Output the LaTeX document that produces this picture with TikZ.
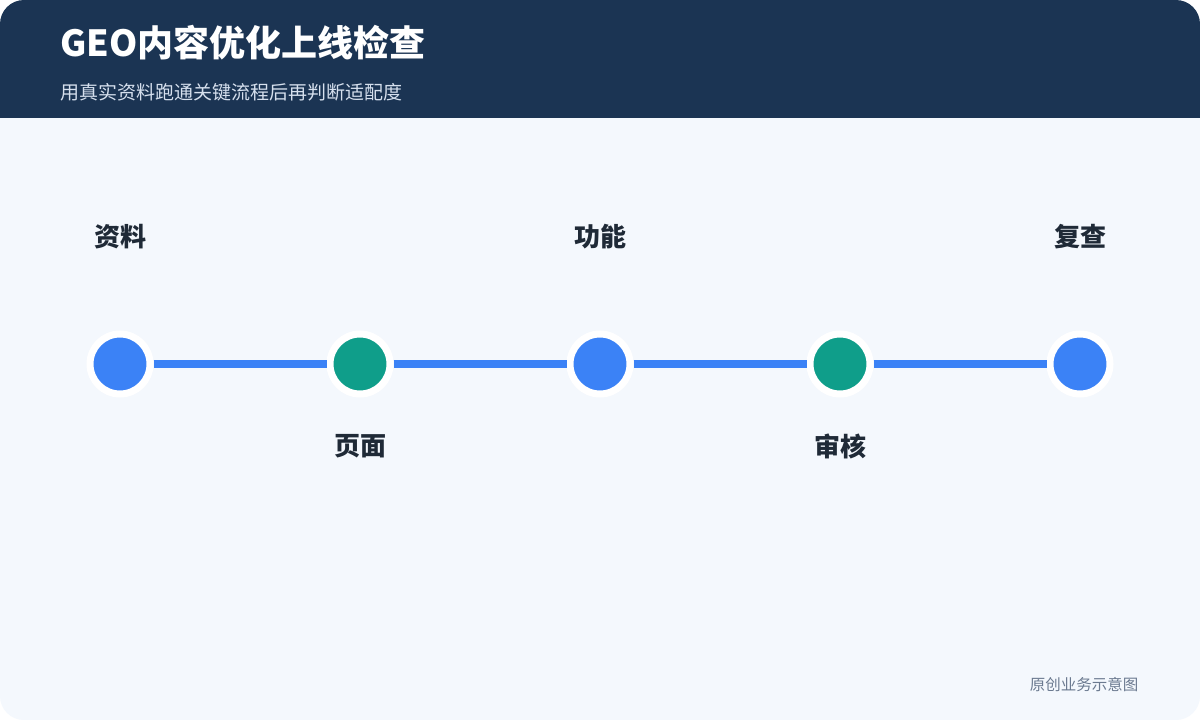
\documentclass[tikz,border=0pt]{standalone}
\usepackage{fontspec}
\setmainfont{Noto Sans CJK SC}
\begin{document}
\begin{tikzpicture}[x=1pt,y=-1pt,
  dot/.style={circle,draw=white,line width=7pt,minimum size=60pt,inner sep=0pt},
  lab/.style={font=\fontsize{26}{30}\selectfont\bfseries,text=labc},
  link/.style={line width=8pt,draw=blueA}]
\definecolor{navy}{HTML}{1B3453}
\definecolor{bg}{HTML}{F4F8FD}
\definecolor{blueA}{HTML}{3B82F6}
\definecolor{greenA}{HTML}{0F9E8A}
\definecolor{sub}{HTML}{D6E0EE}
\definecolor{foot}{HTML}{6B7A90}
\definecolor{labc}{HTML}{1F2A37}
\useasboundingbox (0,0) rectangle (1200,720);
\fill[white] (0,0) rectangle (1200,720);
\fill[bg,rounded corners=24pt] (0,0) rectangle (1200,720);
\fill[navy,rounded corners=24pt] (0,0) rectangle (1200,140);
\fill[bg] (0,118) rectangle (1200,145);
\node[anchor=west,text=white,font=\fontsize{36}{41}\selectfont\bfseries] (title) at (57,43) {GEO内容优化上线检查};
\node[anchor=west,text=sub,font=\fontsize{19}{23}\selectfont] (subt) at (57,92) {用真实资料跑通关键流程后再判断适配度};
\foreach \n/\x/\c in {a/120/blueA,b/360/greenA,c/600/blueA,d/840/greenA,e/1080/blueA}
  \node[dot,fill=\c] (\n) at (\x,364) {};
\draw[link] (a) -- (b);
\draw[link] (b) -- (c);
\draw[link] (c) -- (d);
\draw[link] (d) -- (e);
\node[lab] (la) at (120,237) {资料};
\node[lab] (lc) at (600,237) {功能};
\node[lab] (le) at (1080,237) {复查};
\node[lab] (lb) at (360,446) {页面};
\node[lab] (ld) at (840,446) {审核};
\node[text=foot,font=\fontsize{15.5}{18}\selectfont] (ft) at (1084,685) {原创业务示意图};
\end{tikzpicture}
\end{document}
